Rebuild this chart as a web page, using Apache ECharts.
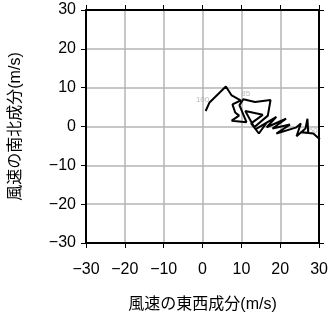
<!DOCTYPE html>
<html>
<head>
<meta charset="utf-8">
<script src="https://cdn.jsdelivr.net/npm/echarts@6/dist/echarts.min.js"></script>
<style>
html,body{margin:0;padding:0;background:#fff;}
#c{width:331px;height:318px;}
</style>
</head>
<body>
<div id="c"></div>
<script>
// Hodograph: wind east-west (u) and north-south (v) components, m/s
const uWind = [0.8, 1.8, 6.0, 7.5, 9.8, 7.7, 8.4, 9.4, 7.5, 11.3, 9.5, 10.5, 13.5, 17.5, 16.8, 13.3, 11.0, 15.5, 12.5, 14.5, 16.5, 13.8, 19.0, 16.5, 21.5, 18.0, 22.5, 19.0, 24.0, 25.3, 24.2, 26.5, 27.0, 27.2, 25.2, 28.5, 30.2];
const vWind = [4.0, 6.2, 10.3, 8.0, 6.7, 5.7, 3.6, 2.8, 1.5, 1.1, 5.5, 7.0, 6.3, 6.8, 2.8, -0.2, 4.0, 3.0, 0.8, -1.8, 1.0, -0.6, 2.5, -0.2, 2.0, -0.5, 0.5, -1.8, -0.3, 0.8, -2.5, -0.5, 2.0, -1.6, -1.5, -1.8, -3.3];
// pressure-level annotations
const levelLabels = ["100", "85", "50"];
const levelU = [0.0, 11.1, 28.5];
const levelV = [6.8, 8.3, -1.2];
const axisTicks = [-30, -20, -10, 0, 10, 20, 30];
const xName = "風速の東西成分(m/s)";
const yName = "風速の南北成分(m/s)";

const FONT = "'Liberation Sans', 'Noto Sans CJK JP', sans-serif";
const fmt = v => String(v).replace('-', '\u2212');

const lineData = uWind.map((u, i) => [u, vWind[i]]);
const labelData = levelLabels.map((t, i) => ({ value: [levelU[i], levelV[i]], name: t }));

const baseAxis = {
  min: axisTicks[0], max: axisTicks[axisTicks.length - 1], interval: 10,
  axisLine: { show: true, onZero: false, lineStyle: { color: '#000', width: 2 } },
  axisTick: { show: true, inside: false, length: 5, lineStyle: { color: '#000', width: 1 } },
  splitLine: { show: false }
};

const chart = echarts.init(document.getElementById('c'), null, { renderer: 'canvas' });
chart.setOption({
  animation: false,
  backgroundColor: '#fff',
  grid: { left: 85, top: 10, width: 236, height: 239, containLabel: false },
  xAxis: [
    Object.assign({}, baseAxis, {
      type: 'value', position: 'bottom',
      name: xName, nameLocation: 'middle', nameGap: 54,
      nameTextStyle: { fontFamily: FONT, fontSize: 16, color: '#000' },
      axisLabel: { show: true, margin: 19, formatter: fmt, fontFamily: FONT, fontSize: 16, color: '#000' },
      splitLine: { show: true, lineStyle: { color: '#b4b4b4', width: 1.5 } }
    }),
    Object.assign({}, baseAxis, { type: 'value', position: 'top', axisLabel: { show: false } })
  ],
  yAxis: [
    Object.assign({}, baseAxis, {
      type: 'value', position: 'left',
      name: yName, nameLocation: 'middle', nameGap: 62, nameRotate: 90,
      nameTextStyle: { fontFamily: FONT, fontSize: 16, color: '#000' },
      axisLabel: { show: true, margin: 10, formatter: fmt, fontFamily: FONT, fontSize: 16, color: '#000' },
      splitLine: { show: true, lineStyle: { color: '#b4b4b4', width: 1.5 } }
    }),
    Object.assign({}, baseAxis, { type: 'value', position: 'right', axisLabel: { show: false } })
  ],
  series: [
    {
      type: 'line', xAxisIndex: 0, yAxisIndex: 0,
      data: lineData, showSymbol: false, symbol: 'none',
      lineStyle: { color: '#000', width: 2 }, clip: true, z: 5
    },
    {
      type: 'scatter', xAxisIndex: 0, yAxisIndex: 0,
      data: labelData, symbolSize: 0,
      label: { show: true, position: 'inside', formatter: p => p.name, color: '#aaa', fontSize: 8, fontFamily: FONT },
      z: 4
    }
  ]
});
</script>
</body>
</html>
